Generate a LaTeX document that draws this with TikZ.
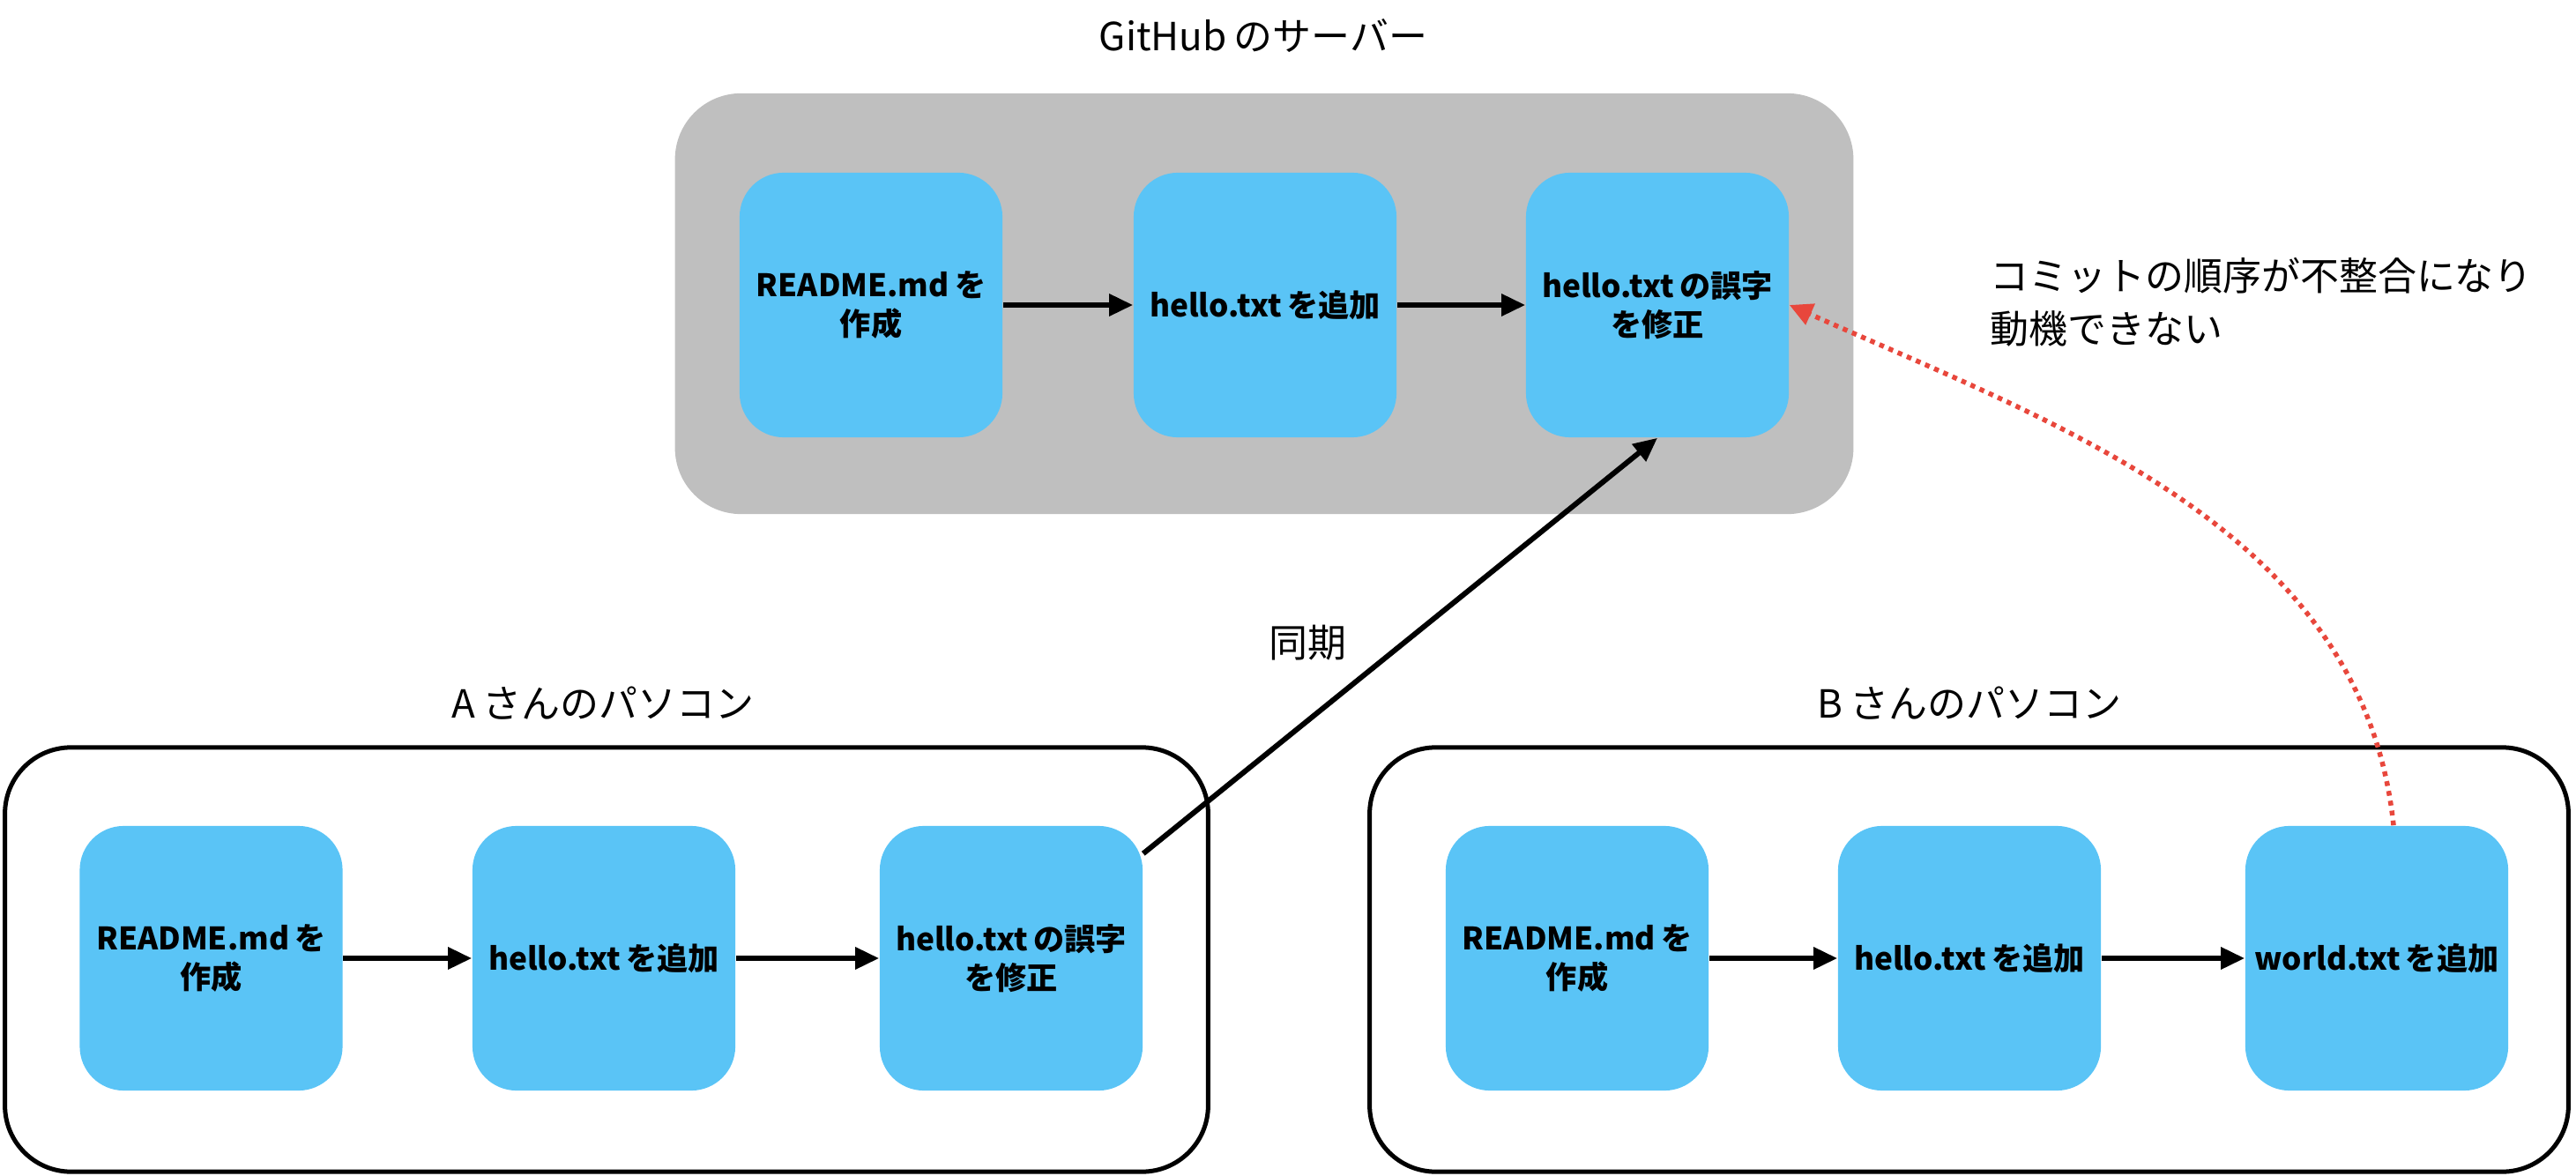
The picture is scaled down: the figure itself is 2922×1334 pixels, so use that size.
\documentclass[tikz,border=0pt]{standalone}
\usepackage{fontspec}
\setmainfont{Noto Sans CJK JP}
\usetikzlibrary{arrows.meta}
\definecolor{boxblue}{HTML}{5AC4F6}
\definecolor{srvgray}{HTML}{BFBFBF}
\definecolor{warnred}{HTML}{E8473C}
\newcommand{\jgap}{\hspace{0.18em}}
\begin{document}
\begin{tikzpicture}[x=0.01cm,y=-0.01cm,
  commit/.style={fill=boxblue, rounded corners=0.5cm, minimum width=2.98cm, minimum height=3.0cm, align=center, font=\fontsize{10}{12.5}\selectfont\bfseries, inner sep=2pt},
  flow/.style={-{Triangle[length=0.27cm,width=0.24cm]}, line width=0.06cm},
  warn/.style={-{Triangle[length=0.26cm,width=0.25cm]}, line width=0.055cm, warnred, dash pattern=on 0.055cm off 0.058cm},
  title/.style={font=\fontsize{12.5}{17}\selectfont},
  group/.style={draw, line width=0.05cm, rounded corners=0.75cm, minimum width=13.6cm, minimum height=4.81cm}]
\useasboundingbox (0,0) rectangle (2922,1334);
% containers
\node[fill=srvgray, rounded corners=0.75cm, minimum width=13.36cm, minimum height=4.77cm] (srv) at (1434,344.5) {};
\node[group, minimum width=13.64cm] (pca) at (688,1088.5) {};
\node[group, minimum width=13.59cm] (pcb) at (2233.5,1088.5) {};
% titles
\node[title] (tsrv) at (1433,41) {GitHub\jgap のサーバー};
\node[title] (ta) at (684,798) {A\jgap さんのパソコン};
\node[title] (tb) at (2234,798) {B\jgap さんのパソコン};
\node[title] (tsync) at (1483,729) {同期};
\node[title, anchor=west, align=left] (tnote) at (2245,343) {コミットの順序が不整合になり\\動機できない};
% commits
\node[commit] (s1) at (988,346) {README.md\jgap を\\作成};
\node[commit] (s2) at (1435,346) {hello.txt\jgap を追加};
\node[commit] (s3) at (1880,346) {hello.txt\jgap の誤字\\を修正};
\node[commit] (a1) at (239.5,1087) {README.md\jgap を\\作成};
\node[commit] (a2) at (685,1087) {hello.txt\jgap を追加};
\node[commit] (a3) at (1147,1087) {hello.txt\jgap の誤字\\を修正};
\node[commit] (b1) at (1789,1087) {README.md\jgap を\\作成};
\node[commit] (b2) at (2234,1087) {hello.txt\jgap を追加};
\node[commit] (b3) at (2696,1087) {world.txt\jgap を追加};
% connectors
\draw[flow] (s1) -- (s2);
\draw[flow] (s2) -- (s3);
\draw[flow] (a1) -- (a2);
\draw[flow] (a2) -- (a3);
\draw[flow] (b1) -- (b2);
\draw[flow] (b2) -- (b3);
\draw[flow] ([yshift=-0.32cm]a3.north east) -- (s3.south);
\draw[warn] ([xshift=0.19cm]b3.north) to[out=96,in=-24,looseness=0.95] ([yshift=0cm]s3.east);
\end{tikzpicture}
\end{document}
